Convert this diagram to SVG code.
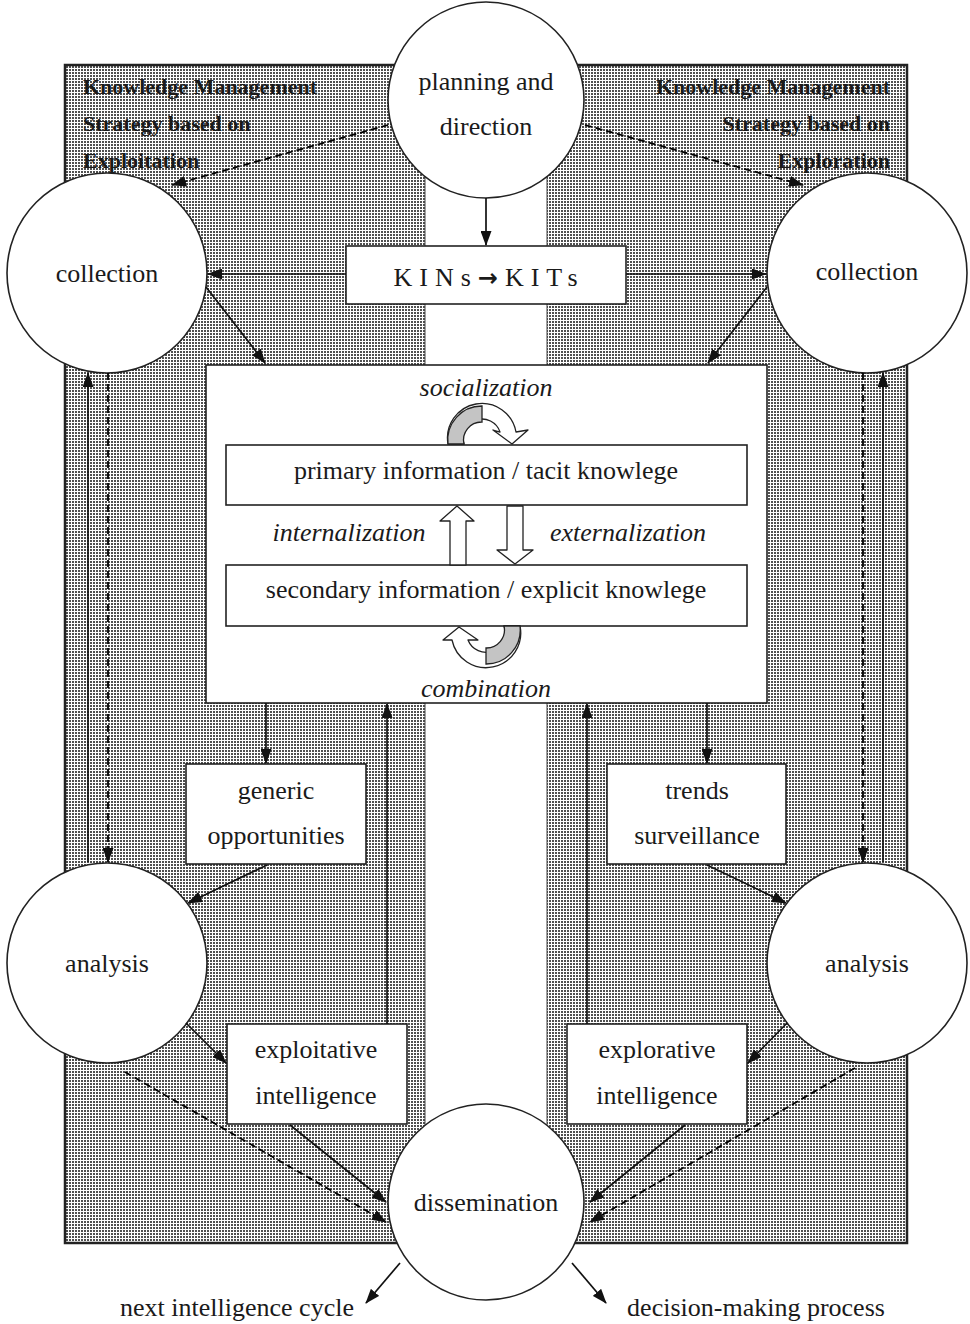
<svg xmlns="http://www.w3.org/2000/svg" width="970" height="1324" viewBox="0 0 970 1324">
<style>
text{font-family:"Liberation Serif","Times New Roman",serif;fill:#1a1a1a;font-size:26px;text-anchor:middle}
.hdr{font-weight:bold;font-size:22px;text-anchor:start}
.hdrr{font-weight:bold;font-size:22px;text-anchor:end}
.it{font-style:italic}
.node{fill:#fff;stroke:#222;stroke-width:1.6}
.box{fill:#fff;stroke:#222;stroke-width:1.6}
.c{fill:none;stroke:#111;stroke-width:1.7}
.d{fill:none;stroke:#000;stroke-width:1.8;stroke-dasharray:7 4}
.band{fill:#fff;stroke:#222;stroke-width:1.3;stroke-linejoin:round}
.gray{fill:#c4c4c4;stroke:#222;stroke-width:1.3}
</style>
<defs>
<pattern id="hatch" width="3" height="3" patternUnits="userSpaceOnUse">
<rect width="3" height="3" fill="#fff"/>
<rect width="2" height="2" fill="#505050"/>
</pattern>
<marker id="ah" markerWidth="15" markerHeight="11" refX="14" refY="5.5" orient="auto" markerUnits="userSpaceOnUse">
<path d="M0,0 L15,5.5 L0,11 Z" fill="#111"/>
</marker>
</defs>
<rect width="970" height="1324" fill="#fff"/>
<g id="background">
<rect x="65" y="65" width="842" height="1178" fill="url(#hatch)" stroke="#222" stroke-width="2.5"/>
<rect x="425" y="65" width="122" height="1178" fill="#fff" stroke="#444" stroke-width="1"/>
</g>
<g id="headers">
<text class="hdr" x="83" y="94">Knowledge Management</text>
<text class="hdr" x="83" y="131">Strategy based on</text>
<text class="hdr" x="83" y="168">Exploitation</text>
<text class="hdrr" x="890" y="94">Knowledge Management</text>
<text class="hdrr" x="890" y="131">Strategy based on</text>
<text class="hdrr" x="890" y="168">Exploration</text>
</g>
<g id="planning">
<circle class="node" cx="486" cy="100" r="98"/>
<text x="486" y="90">planning and</text>
<text x="486" y="135">direction</text>
</g>
<g id="collection-left">
<circle class="node" cx="107" cy="273" r="100"/>
<text x="107" y="282">collection</text>
</g>
<g id="collection-right">
<circle class="node" cx="867" cy="273" r="100"/>
<text x="867" y="280">collection</text>
</g>
<g id="kins">
<rect class="box" x="346" y="246" width="280" height="58"/>
<text x="489" y="286" letter-spacing="7">KINs<tspan font-family="DejaVu Sans, sans-serif" font-weight="bold" font-size="24">→</tspan>KITs</text>
</g>
<g id="knowledge-box">
<rect class="box" x="206" y="365" width="561" height="338"/>
<text class="it" x="486" y="396">socialization</text>
<rect class="box" x="226" y="445" width="521" height="60"/>
<text x="486" y="479">primary information / tacit knowlege</text>
<text class="it" x="349" y="541">internalization</text>
<text class="it" x="628" y="541">externalization</text>
<rect class="box" x="226" y="565" width="521" height="61"/>
<text x="486" y="598">secondary information / explicit knowlege</text>
<text class="it" x="486" y="697">combination</text>
<path class="band" d="M448,444 A34,34 0 0 1 516,432 L528,430 L512,444 L493,430 L500,432 A18,18 0 0 0 464,444 Z"/>
<path class="gray" d="M448,444 A34,34 0 0 1 482,406 L482,422 A18,18 0 0 0 464,444 Z"/>
<path class="band" d="M520,626 A34,34 0 0 1 452,640 L443,640 L459,627 L478,640 L468,640 A18,18 0 0 0 504,626 Z"/>
<path class="gray" d="M520,626 A34,34 0 0 1 486,664 L486,648 A18,18 0 0 0 504,626 Z"/>
<path class="band" d="M450,565 L450,521 L440,521 L457,506 L474,521 L466,521 L466,565 Z"/>
<path class="band" d="M507,506 L507,550 L497,550 L515,564 L533,550 L523,550 L523,506 Z"/>
</g>
<g id="generic">
<rect class="box" x="186" y="764" width="180" height="100"/>
<text x="276" y="799">generic</text>
<text x="276" y="844">opportunities</text>
</g>
<g id="trends">
<rect class="box" x="607" y="764" width="179" height="100"/>
<text x="697" y="799">trends</text>
<text x="697" y="844">surveillance</text>
</g>
<g id="analysis-left">
<circle class="node" cx="107" cy="963" r="100"/>
<text x="107" y="972">analysis</text>
</g>
<g id="analysis-right">
<circle class="node" cx="867" cy="963" r="100"/>
<text x="867" y="972">analysis</text>
</g>
<g id="exploitative">
<rect class="box" x="227" y="1024" width="180" height="100"/>
<text x="316" y="1058">exploitative</text>
<text x="316" y="1104">intelligence</text>
</g>
<g id="explorative">
<rect class="box" x="567" y="1024" width="180" height="100"/>
<text x="657" y="1058">explorative</text>
<text x="657" y="1104">intelligence</text>
</g>
<g id="dissemination">
<circle class="node" cx="486" cy="1202" r="98"/>
<text x="486" y="1211">dissemination</text>
</g>
<g id="outputs">
<text x="237" y="1316">next intelligence cycle</text>
<text x="756" y="1316">decision-making process</text>
</g>
<g id="connectors">
<line class="c" x1="486" y1="198" x2="486" y2="245" marker-end="url(#ah)"/>
<line class="c" x1="346" y1="274" x2="208" y2="274" marker-end="url(#ah)"/>
<line class="c" x1="626" y1="274" x2="766" y2="274" marker-end="url(#ah)"/>
<line class="d" x1="388" y1="125" x2="172" y2="185" marker-end="url(#ah)"/>
<line class="d" x1="585" y1="125" x2="803" y2="185" marker-end="url(#ah)"/>
<line class="c" x1="206" y1="287" x2="265" y2="363" marker-end="url(#ah)"/>
<line class="c" x1="767" y1="287" x2="708" y2="363" marker-end="url(#ah)"/>
<line class="c" x1="88" y1="862" x2="88" y2="373" marker-end="url(#ah)"/>
<line class="d" x1="108" y1="373" x2="108" y2="862" marker-end="url(#ah)"/>
<line class="c" x1="883" y1="862" x2="883" y2="373" marker-end="url(#ah)"/>
<line class="d" x1="863" y1="373" x2="863" y2="862" marker-end="url(#ah)"/>
<line class="c" x1="266" y1="703" x2="266" y2="763" marker-end="url(#ah)"/>
<line class="c" x1="707" y1="703" x2="707" y2="763" marker-end="url(#ah)"/>
<line class="c" x1="267" y1="865" x2="188" y2="903" marker-end="url(#ah)"/>
<line class="c" x1="707" y1="865" x2="786" y2="903" marker-end="url(#ah)"/>
<line class="c" x1="186" y1="1023" x2="226" y2="1063" marker-end="url(#ah)"/>
<line class="c" x1="787" y1="1023" x2="748" y2="1063" marker-end="url(#ah)"/>
<line class="c" x1="387" y1="1024" x2="387" y2="704" marker-end="url(#ah)"/>
<line class="c" x1="587" y1="1024" x2="587" y2="704" marker-end="url(#ah)"/>
<line class="c" x1="290" y1="1125" x2="386" y2="1202" marker-end="url(#ah)"/>
<line class="d" x1="125" y1="1072" x2="386" y2="1222" marker-end="url(#ah)"/>
<line class="c" x1="685" y1="1125" x2="590" y2="1202" marker-end="url(#ah)"/>
<line class="d" x1="855" y1="1068" x2="590" y2="1222" marker-end="url(#ah)"/>
<line class="c" x1="400" y1="1263" x2="366" y2="1303" marker-end="url(#ah)"/>
<line class="c" x1="572" y1="1263" x2="606" y2="1303" marker-end="url(#ah)"/>
</g>
</svg>
